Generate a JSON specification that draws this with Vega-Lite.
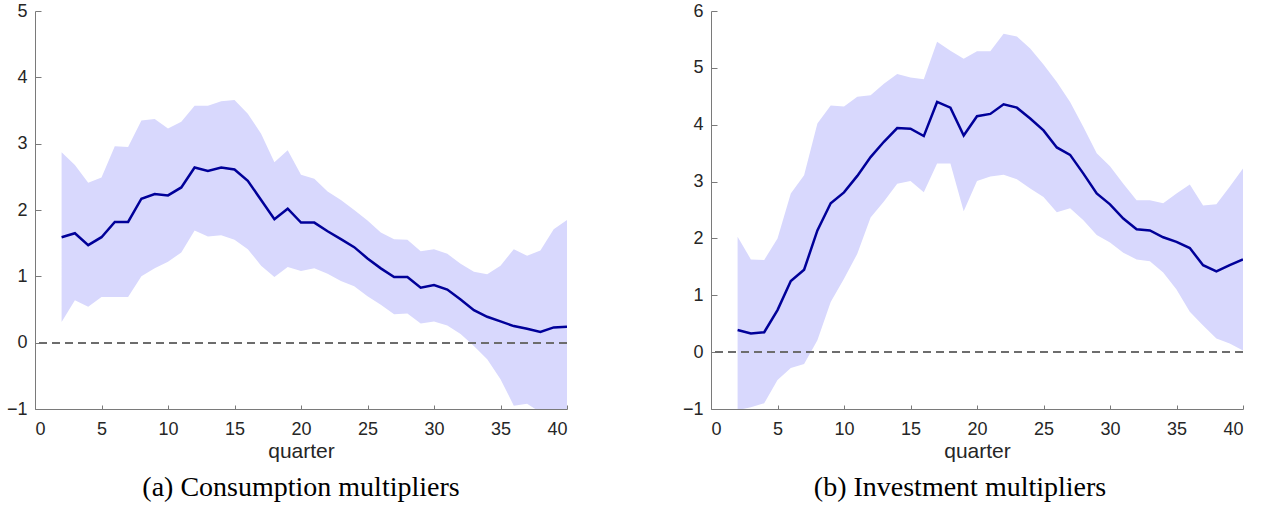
{
  "$schema": "https://vega.github.io/schema/vega-lite/v6.json",
  "padding": {"left": 6, "top": 2, "right": 0, "bottom": 0},
  "background": "white",
  "config": {
    "view": {"stroke": null},
    "axis": {
      "grid": false,
      "domainColor": "#7a7a7a",
      "tickColor": "#7a7a7a",
      "labelColor": "#262626",
      "titleColor": "#262626",
      "labelFont": "Liberation Sans",
      "titleFont": "Liberation Sans",
      "labelFontSize": 18,
      "titleFontSize": 21,
      "titleFontWeight": "normal",
      "format": "d"
    },
    "axisX": {"tickSize": -4, "labelPadding": 15, "titlePadding": 2},
    "axisY": {"tickSize": -6, "labelPadding": 14},
    "title": {"font": "Liberation Serif", "fontSize": 28, "fontWeight": "normal", "color": "black", "orient": "bottom", "offset": 13}
  },
  "datasets": {
    "cons": [
      {"q": 2, "mid": 1.59, "lo": 0.31, "hi": 2.87},
      {"q": 3, "mid": 1.65, "lo": 0.64, "hi": 2.68},
      {"q": 4, "mid": 1.47, "lo": 0.54, "hi": 2.41},
      {"q": 5, "mid": 1.59, "lo": 0.69, "hi": 2.49},
      {"q": 6, "mid": 1.82, "lo": 0.69, "hi": 2.96},
      {"q": 7, "mid": 1.82, "lo": 0.69, "hi": 2.95},
      {"q": 8, "mid": 2.17, "lo": 1.0, "hi": 3.35},
      {"q": 9, "mid": 2.24, "lo": 1.12, "hi": 3.37},
      {"q": 10, "mid": 2.22, "lo": 1.22, "hi": 3.23},
      {"q": 11, "mid": 2.34, "lo": 1.36, "hi": 3.33},
      {"q": 12, "mid": 2.64, "lo": 1.69, "hi": 3.57},
      {"q": 13, "mid": 2.59, "lo": 1.6, "hi": 3.57},
      {"q": 14, "mid": 2.64, "lo": 1.62, "hi": 3.64},
      {"q": 15, "mid": 2.61, "lo": 1.55, "hi": 3.66},
      {"q": 16, "mid": 2.44, "lo": 1.41, "hi": 3.45},
      {"q": 17, "mid": 2.15, "lo": 1.16, "hi": 3.15},
      {"q": 18, "mid": 1.86, "lo": 0.99, "hi": 2.72},
      {"q": 19, "mid": 2.02, "lo": 1.14, "hi": 2.9},
      {"q": 20, "mid": 1.81, "lo": 1.08, "hi": 2.53},
      {"q": 21, "mid": 1.81, "lo": 1.12, "hi": 2.47},
      {"q": 22, "mid": 1.68, "lo": 1.04, "hi": 2.28},
      {"q": 23, "mid": 1.56, "lo": 0.93, "hi": 2.15},
      {"q": 24, "mid": 1.44, "lo": 0.85, "hi": 2.0},
      {"q": 25, "mid": 1.27, "lo": 0.7, "hi": 1.84},
      {"q": 26, "mid": 1.12, "lo": 0.57, "hi": 1.66},
      {"q": 27, "mid": 0.99, "lo": 0.43, "hi": 1.56},
      {"q": 28, "mid": 0.99, "lo": 0.44, "hi": 1.55},
      {"q": 29, "mid": 0.83, "lo": 0.29, "hi": 1.38},
      {"q": 30, "mid": 0.87, "lo": 0.32, "hi": 1.41},
      {"q": 31, "mid": 0.8, "lo": 0.26, "hi": 1.34},
      {"q": 32, "mid": 0.65, "lo": 0.13, "hi": 1.19},
      {"q": 33, "mid": 0.49, "lo": -0.05, "hi": 1.07},
      {"q": 34, "mid": 0.39, "lo": -0.25, "hi": 1.03},
      {"q": 35, "mid": 0.32, "lo": -0.55, "hi": 1.16},
      {"q": 36, "mid": 0.25, "lo": -0.95, "hi": 1.41},
      {"q": 37, "mid": 0.21, "lo": -0.92, "hi": 1.31},
      {"q": 38, "mid": 0.16, "lo": -1.05, "hi": 1.39},
      {"q": 39, "mid": 0.23, "lo": -1.05, "hi": 1.71},
      {"q": 40, "mid": 0.24, "lo": -1.02, "hi": 1.85}
    ],
    "inv": [
      {"q": 2, "mid": 0.39, "lo": -1.02, "hi": 2.03},
      {"q": 3, "mid": 0.33, "lo": -0.97, "hi": 1.63},
      {"q": 4, "mid": 0.35, "lo": -0.9, "hi": 1.62},
      {"q": 5, "mid": 0.74, "lo": -0.49, "hi": 2.0},
      {"q": 6, "mid": 1.25, "lo": -0.28, "hi": 2.79},
      {"q": 7, "mid": 1.45, "lo": -0.21, "hi": 3.11},
      {"q": 8, "mid": 2.14, "lo": 0.21, "hi": 4.02},
      {"q": 9, "mid": 2.62, "lo": 0.88, "hi": 4.34},
      {"q": 10, "mid": 2.81, "lo": 1.29, "hi": 4.32},
      {"q": 11, "mid": 3.1, "lo": 1.73, "hi": 4.49},
      {"q": 12, "mid": 3.43, "lo": 2.37, "hi": 4.52},
      {"q": 13, "mid": 3.7, "lo": 2.65, "hi": 4.72},
      {"q": 14, "mid": 3.94, "lo": 2.96, "hi": 4.89},
      {"q": 15, "mid": 3.93, "lo": 3.01, "hi": 4.83},
      {"q": 16, "mid": 3.8, "lo": 2.81, "hi": 4.8},
      {"q": 17, "mid": 4.4, "lo": 3.32, "hi": 5.46},
      {"q": 18, "mid": 4.3, "lo": 3.32, "hi": 5.3},
      {"q": 19, "mid": 3.81, "lo": 2.48, "hi": 5.16},
      {"q": 20, "mid": 4.15, "lo": 3.01, "hi": 5.29},
      {"q": 21, "mid": 4.19, "lo": 3.09, "hi": 5.29},
      {"q": 22, "mid": 4.36, "lo": 3.12, "hi": 5.6},
      {"q": 23, "mid": 4.3, "lo": 3.04, "hi": 5.55},
      {"q": 24, "mid": 4.11, "lo": 2.88, "hi": 5.34},
      {"q": 25, "mid": 3.9, "lo": 2.73, "hi": 5.06},
      {"q": 26, "mid": 3.6, "lo": 2.46, "hi": 4.75},
      {"q": 27, "mid": 3.47, "lo": 2.53, "hi": 4.4},
      {"q": 28, "mid": 3.14, "lo": 2.32, "hi": 3.96},
      {"q": 29, "mid": 2.79, "lo": 2.06, "hi": 3.5},
      {"q": 30, "mid": 2.6, "lo": 1.93, "hi": 3.27},
      {"q": 31, "mid": 2.35, "lo": 1.75, "hi": 2.96},
      {"q": 32, "mid": 2.16, "lo": 1.63, "hi": 2.67},
      {"q": 33, "mid": 2.14, "lo": 1.6, "hi": 2.67},
      {"q": 34, "mid": 2.02, "lo": 1.4, "hi": 2.62},
      {"q": 35, "mid": 1.94, "lo": 1.1, "hi": 2.79},
      {"q": 36, "mid": 1.83, "lo": 0.71, "hi": 2.95},
      {"q": 37, "mid": 1.53, "lo": 0.47, "hi": 2.58},
      {"q": 38, "mid": 1.42, "lo": 0.24, "hi": 2.6},
      {"q": 39, "mid": 1.53, "lo": 0.15, "hi": 2.91},
      {"q": 40, "mid": 1.63, "lo": 0.03, "hi": 3.23}
    ]
  },
  "spacing": 114,
  "hconcat": [
    {
      "width": 532,
      "height": 398,
      "data": {"name": "cons"},
      "title": {"text": "(a) Consumption multipliers"},
      "layer": [
        {
          "mark": {"type": "area", "color": "#d8d8fd", "opacity": 1, "clip": true},
          "encoding": {
            "x": {"field": "q", "type": "quantitative", "scale": {"domain": [0, 40], "nice": false}, "axis": {"values": [0, 5, 10, 15, 20, 25, 30, 35, 40], "title": "quarter"}},
            "y": {"field": "lo", "type": "quantitative", "scale": {"domain": [-1, 5], "nice": false, "zero": false}, "axis": {"values": [-1, 0, 1, 2, 3, 4, 5], "title": null}},
            "y2": {"field": "hi"}
          }
        },
        {
          "mark": {"type": "rule", "color": "#6e6e6e", "strokeDash": [8, 5], "strokeWidth": 1},
          "encoding": {"y": {"datum": 0}}
        },
        {
          "mark": {"type": "line", "color": "#000099", "strokeWidth": 2.5, "clip": true},
          "encoding": {
            "x": {"field": "q", "type": "quantitative"},
            "y": {"field": "mid", "type": "quantitative"}
          }
        }
      ]
    },
    {
      "width": 532,
      "height": 398,
      "data": {"name": "inv"},
      "title": {"text": "(b) Investment multipliers", "dx": -17},
      "layer": [
        {
          "mark": {"type": "area", "color": "#d8d8fd", "opacity": 1, "clip": true},
          "encoding": {
            "x": {"field": "q", "type": "quantitative", "scale": {"domain": [0, 40], "nice": false}, "axis": {"values": [0, 5, 10, 15, 20, 25, 30, 35, 40], "title": "quarter"}},
            "y": {"field": "lo", "type": "quantitative", "scale": {"domain": [-1, 6], "nice": false, "zero": false}, "axis": {"values": [-1, 0, 1, 2, 3, 4, 5, 6], "title": null}},
            "y2": {"field": "hi"}
          }
        },
        {
          "mark": {"type": "rule", "color": "#6e6e6e", "strokeDash": [8, 5], "strokeWidth": 1},
          "encoding": {"y": {"datum": 0}}
        },
        {
          "mark": {"type": "line", "color": "#000099", "strokeWidth": 2.5, "clip": true},
          "encoding": {
            "x": {"field": "q", "type": "quantitative"},
            "y": {"field": "mid", "type": "quantitative"}
          }
        }
      ]
    }
  ]
}
